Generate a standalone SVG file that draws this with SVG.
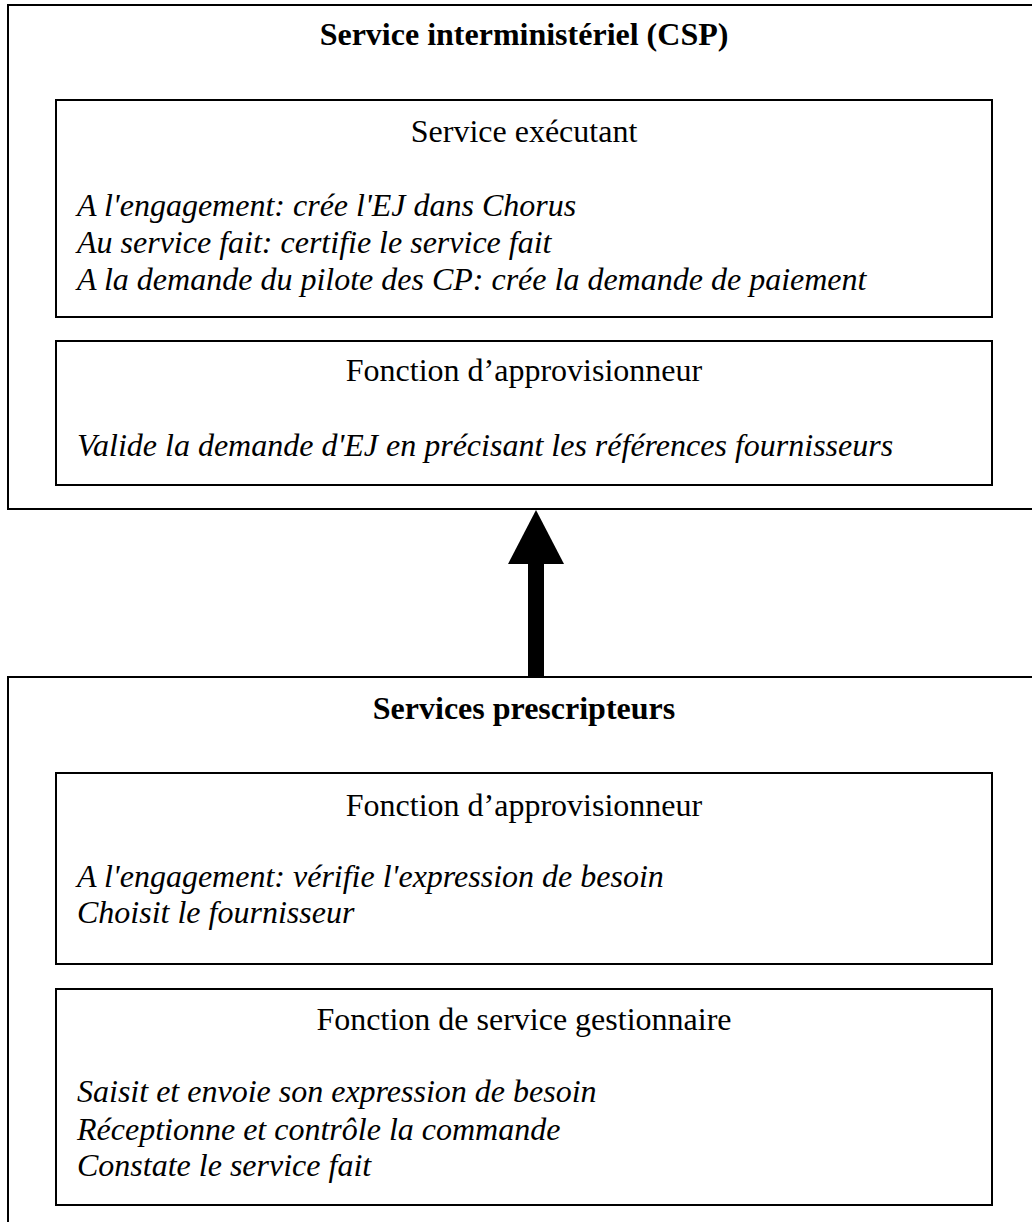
<svg xmlns="http://www.w3.org/2000/svg" width="1032" height="1222" viewBox="0 0 1032 1222">
<style>
.box{fill:none;stroke:#000;stroke-width:2}
.t{font-family:"Liberation Serif","Times New Roman",serif;font-size:32px;fill:#000}
.c{text-anchor:middle}
.b{font-weight:bold}
.i{font-style:italic}
</style>
<rect width="1032" height="1222" fill="#fff"/>
<g id="csp">
<rect class="box" x="8" y="5" width="1040" height="504"/>
<text class="t b c" x="524" y="45">Service interministériel (CSP)</text>
</g>
<g id="service-executant">
<rect class="box" x="56" y="100" width="936" height="217"/>
<text class="t c" x="524" y="142">Service exécutant</text>
<text class="t i" x="77" y="216">A l'engagement: crée l'EJ dans Chorus</text>
<text class="t i" x="77" y="253">Au service fait: certifie le service fait</text>
<text class="t i" x="77" y="290">A la demande du pilote des CP: crée la demande de paiement</text>
</g>
<g id="approvisionneur-csp">
<rect class="box" x="56" y="341" width="936" height="144"/>
<text class="t c" x="524" y="381">Fonction d’approvisionneur</text>
<text class="t i" x="77" y="456">Valide la demande d'EJ en précisant les références fournisseurs</text>
</g>
<g id="prescripteurs">
<rect class="box" x="8" y="677" width="1040" height="560"/>
<text class="t b c" x="524" y="719">Services prescripteurs</text>
</g>
<g id="approvisionneur-prescripteurs">
<rect class="box" x="56" y="773" width="936" height="191"/>
<text class="t c" x="524" y="816">Fonction d’approvisionneur</text>
<text class="t i" x="77" y="887">A l'engagement: vérifie l'expression de besoin</text>
<text class="t i" x="77" y="923">Choisit le fournisseur</text>
</g>
<g id="gestionnaire">
<rect class="box" x="56" y="989" width="936" height="216"/>
<text class="t c" x="524" y="1030">Fonction de service gestionnaire</text>
<text class="t i" x="77" y="1102">Saisit et envoie son expression de besoin</text>
<text class="t i" x="77" y="1140">Réceptionne et contrôle la commande</text>
<text class="t i" x="77" y="1176">Constate le service fait</text>
</g>
<g id="connectors">
<rect x="528" y="562" width="16" height="115" fill="#000"/>
<polygon points="536,510 508,564 564,564" fill="#000"/>
</g>
</svg>
